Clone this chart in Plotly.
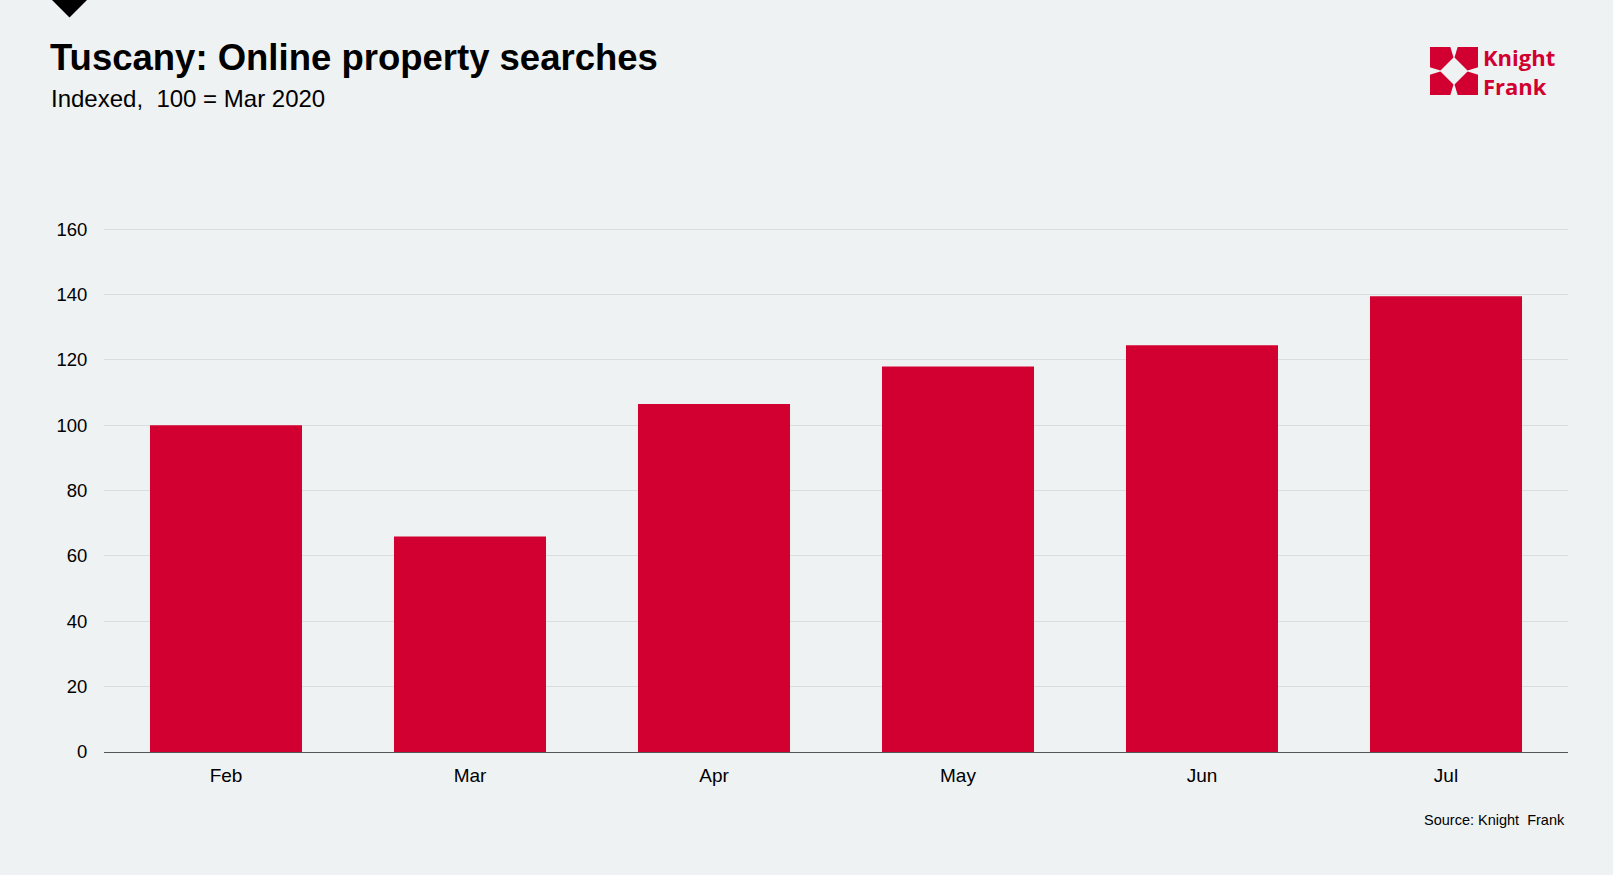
import plotly.graph_objects as go

months = ["Feb", "Mar", "Apr", "May", "Jun", "Jul"]
index_values = [100, 66, 106.5, 118, 124.5, 139.5]
y_ticks = [0, 20, 40, 60, 80, 100, 120, 140, 160]

W, H = 1613, 875
L, R, T, B = 104, 45, 228, 123
PW, PH = W - L - R, H - T - B

def px(x):
    return (x - L) / PW

def py(y):
    return (H - B - y) / PH

BG = "#eff2f2"
RED = "#d20030"

fig = go.Figure(go.Bar(
    x=months, y=index_values, marker=dict(color=RED, line=dict(width=0)),
    hoverinfo="x+y",
))

shapes = []
# black diamond tip at top-left
shapes.append(dict(type="path", xref="paper", yref="paper",
                   path=f"M {px(50)} {py(-2)} L {px(89)} {py(-2)} L {px(69.5)} {py(17.5)} Z",
                   fillcolor="black", line=dict(width=0)))
# Knight Frank logo symbol
x0, x1, y0, y1 = 1430, 1478, 47, 95
cx, cy = (x0 + x1) / 2, (y0 + y1) / 2
shapes.append(dict(type="rect", xref="paper", yref="paper",
                   x0=px(x0), x1=px(x1), y0=py(y1), y1=py(y0),
                   fillcolor=RED, line=dict(width=0)))
d = 14
shapes.append(dict(type="path", xref="paper", yref="paper",
                   path=f"M {px(cx-d)} {py(cy)} L {px(cx)} {py(cy-d)} L {px(cx+d)} {py(cy)} L {px(cx)} {py(cy+d)} Z",
                   fillcolor=BG, line=dict(width=0)))
n = 4
for path in [
    f"M {px(cx-n)} {py(y0-1)} L {px(cx+n)} {py(y0-1)} L {px(cx)} {py(cy-d+2)} Z",
    f"M {px(cx-n)} {py(y1+1)} L {px(cx+n)} {py(y1+1)} L {px(cx)} {py(cy+d-2)} Z",
    f"M {px(x0-1)} {py(cy-n)} L {px(x0-1)} {py(cy+n)} L {px(cx-d+2)} {py(cy)} Z",
    f"M {px(x1+1)} {py(cy-n)} L {px(x1+1)} {py(cy+n)} L {px(cx+d-2)} {py(cy)} Z",
]:
    shapes.append(dict(type="path", xref="paper", yref="paper", path=path,
                       fillcolor=BG, line=dict(width=0)))

annotations = [
    dict(text="<b>Tuscany: Online property searches</b>", xref="paper", yref="paper",
         x=px(48), y=py(58), xanchor="left", yanchor="middle", showarrow=False,
         font=dict(family="Liberation Sans, Arial", size=36.5, color="black")),
    dict(text="Indexed,  100 = Mar 2020", xref="paper", yref="paper",
         x=px(49), y=py(99), xanchor="left", yanchor="middle", showarrow=False,
         font=dict(family="Liberation Sans, Arial", size=24, color="black")),
    dict(text="<b>Knight<br>Frank</b>", xref="paper", yref="paper",
         x=px(1481), y=py(71), xanchor="left", yanchor="middle", showarrow=False,
         align="left",
         font=dict(family="Open Sans", size=22, color=RED)),
    dict(text="Source: Knight  Frank", xref="paper", yref="paper",
         x=px(1567), y=py(820), xanchor="right", yanchor="middle", showarrow=False,
         font=dict(family="Liberation Sans, Arial", size=14.5, color="black")),
]

fig.update_layout(
    width=W, height=H,
    margin=dict(l=L, r=R, t=T, b=B, pad=0),
    paper_bgcolor=BG, plot_bgcolor=BG,
    bargap=0.377,
    showlegend=False,
    shapes=shapes,
    annotations=annotations,
    font=dict(family="Liberation Sans, Arial", color="black"),
    xaxis=dict(showgrid=False, showline=True, linecolor="#555555", linewidth=1.2,
               ticks="outside", ticklen=6, tickcolor="rgba(0,0,0,0)",
               tickfont=dict(size=19, color="black"), fixedrange=True),
    yaxis=dict(range=[0, 160.4], tickvals=y_ticks, showgrid=True, gridcolor="#dadddd",
               gridwidth=1, zeroline=False, showline=False,
               ticks="outside", ticklen=12, tickcolor="rgba(0,0,0,0)",
               tickfont=dict(size=18.5, color="black"), fixedrange=True),
)

fig.write_html("out.html", config={"displayModeBar": False},
               post_script="document.body.style.margin='0';document.body.style.background='#eff2f2';")
